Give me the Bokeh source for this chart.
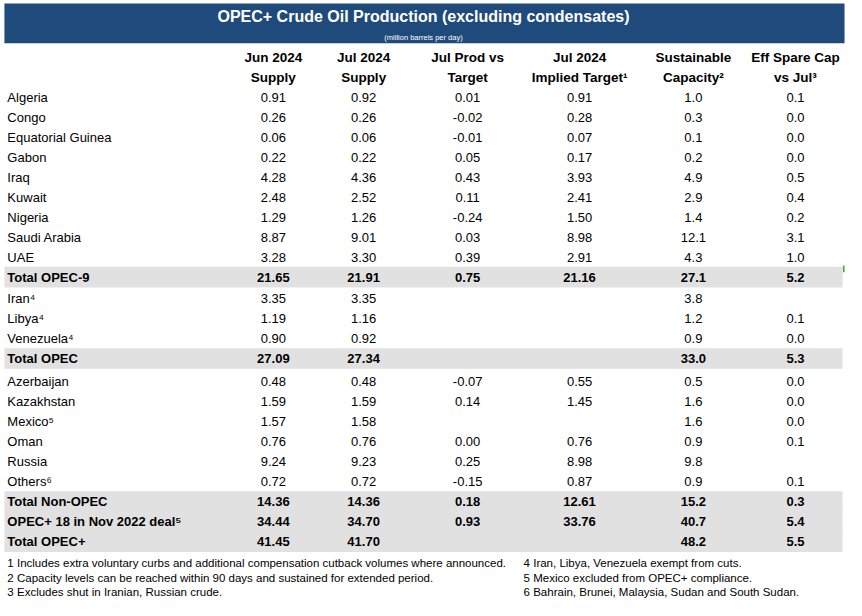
from bokeh.plotting import figure
from bokeh.models import Range1d, ColumnDataSource
from bokeh.core.properties import value
from bokeh.embed import file_html
from bokeh.resources import INLINE

# ---------------- data ----------------
title = "OPEC+ Crude Oil Production (excluding condensates)"
subtitle = "(million barrels per day)"

header_line1 = ["Jun 2024", "Jul 2024", "Jul Prod vs", "Jul 2024", "Sustainable", "Eff Spare Cap"]
header_line2 = ["Supply", "Supply", "Target", "Implied Target\u00b9", "Capacity\u00b2", "vs Jul\u00b3"]

countries = ["Algeria", "Congo", "Equatorial Guinea", "Gabon", "Iraq", "Kuwait", "Nigeria",
             "Saudi Arabia", "UAE", "Total OPEC-9", "Iran\u2074", "Libya\u2074", "Venezuela\u2074",
             "Total OPEC", "Azerbaijan", "Kazakhstan", "Mexico\u2075", "Oman", "Russia",
             "Others\u2076", "Total Non-OPEC", "OPEC+ 18 in Nov 2022 deal\u2075", "Total OPEC+"]

jun_supply = [0.91, 0.26, 0.06, 0.22, 4.28, 2.48, 1.29, 8.87, 3.28, 21.65, 3.35, 1.19, 0.90,
              27.09, 0.48, 1.59, 1.57, 0.76, 9.24, 0.72, 14.36, 34.44, 41.45]
jul_supply = [0.92, 0.26, 0.06, 0.22, 4.36, 2.52, 1.26, 9.01, 3.30, 21.91, 3.35, 1.16, 0.92,
              27.34, 0.48, 1.59, 1.58, 0.76, 9.23, 0.72, 14.36, 34.70, 41.70]
prod_vs_target = [0.01, -0.02, -0.01, 0.05, 0.43, 0.11, -0.24, 0.03, 0.39, 0.75, None, None, None,
                  None, -0.07, 0.14, None, 0.00, 0.25, -0.15, 0.18, 0.93, None]
implied_target = [0.91, 0.28, 0.07, 0.17, 3.93, 2.41, 1.50, 8.98, 2.91, 21.16, None, None, None,
                  None, 0.55, 1.45, None, 0.76, 8.98, 0.87, 12.61, 33.76, None]
sustainable_capacity = [1.0, 0.3, 0.1, 0.2, 4.9, 2.9, 1.4, 12.1, 4.3, 27.1, 3.8, 1.2, 0.9,
                        33.0, 0.5, 1.6, 1.6, 0.9, 9.8, 0.9, 15.2, 40.7, 48.2]
spare_capacity = [0.1, 0.0, 0.0, 0.0, 0.5, 0.4, 0.2, 3.1, 1.0, 5.2, None, 0.1, 0.0,
                  5.3, 0.0, 0.0, 0.0, 0.1, None, 0.1, 0.3, 5.4, 5.5]

footnotes_left = ["1  Includes extra voluntary curbs and additional compensation cutback volumes where announced.",
                  "2  Capacity levels can be reached within 90 days and sustained for extended period.",
                  "3  Excludes shut in Iranian, Russian crude."]
footnotes_right = ["4  Iran, Libya, Venezuela exempt from cuts.",
                   "5  Mexico excluded from OPEC+ compliance.",
                   "6  Bahrain, Brunei, Malaysia, Sudan and South Sudan."]

# ---------------- layout ----------------
FONT = value("Liberation Sans")
col_x = [278, 370, 476, 590, 706, 810]
col_fmt = ["{:.2f}", "{:.2f}", "{:.2f}", "{:.2f}", "{:.1f}", "{:.1f}"]
columns = [jun_supply, jul_supply, prod_vs_target, implied_target, sustainable_capacity, spare_capacity]

def row_y(i):
    extra = 0.0
    if i >= 10:
        extra += 1.5
    if i >= 14:
        extra += 3.5
    return 99.5 + 20.5 * i + extra

is_total = [c.startswith("Total") or c.startswith("OPEC+") for c in countries]
ys = [row_y(i) for i in range(len(countries))]

p = figure(width=846, height=600, x_range=Range1d(0, 862), y_range=Range1d(616, 0),
           output_backend="svg", toolbar_location=None, min_border=0,
           x_axis_type=None, y_axis_type=None, tools="")
p.grid.visible = False
p.outline_line_color = None
p.background_fill_color = "white"
p.border_fill_color = "white"

# title bar
p.quad(left=[4], right=[860], top=[3], bottom=[44], fill_color="#1F4A7C", line_color=None)
p.text(x=[431], y=[16.5], text=[title], text_font=FONT, text_font_style="bold",
       text_font_size="16px", text_color="white", text_align="center", text_baseline="middle")
p.text(x=[431], y=[37.5], text=[subtitle], text_font=FONT, text_font_size="7.5px",
       text_color="white", text_align="center", text_baseline="middle")

# grey bands for total rows
band_src = ColumnDataSource(dict(
    top=[y - 10.6 for y, t in zip(ys, is_total) if t],
    bottom=[y + 10.6 for y, t in zip(ys, is_total) if t]))
p.quad(left=4, right=858, top="top", bottom="bottom", source=band_src,
       fill_color="#E1E1E1", line_color=None)
# small green mark at right edge
p.quad(left=[858.5], right=[860], top=[272], bottom=[279], fill_color="#3A9A3A", line_color=None)

# headers
p.text(x=col_x, y=[59] * 6, text=header_line1, text_font=FONT, text_font_style="bold",
       text_font_size="13.5px", text_color="black", text_align="center", text_baseline="middle")
p.text(x=col_x, y=[79.5] * 6, text=header_line2, text_font=FONT, text_font_style="bold",
       text_font_size="13.5px", text_color="black", text_align="center", text_baseline="middle")

# row labels
for bold in (False, True):
    idx = [i for i in range(len(countries)) if is_total[i] == bold]
    src = ColumnDataSource(dict(x=[7] * len(idx), y=[ys[i] for i in idx],
                                text=[countries[i] for i in idx]))
    p.text(x="x", y="y", text="text", source=src, text_font=FONT,
           text_font_style="bold" if bold else "normal", text_font_size="13px",
           text_color="black", text_align="left", text_baseline="middle")

# values
for cx, fmt, vals in zip(col_x, col_fmt, columns):
    for bold in (False, True):
        idx = [i for i in range(len(vals)) if is_total[i] == bold and vals[i] is not None]
        src = ColumnDataSource(dict(x=[cx] * len(idx), y=[ys[i] for i in idx],
                                    text=[fmt.format(vals[i]) for i in idx]))
        p.text(x="x", y="y", text="text", source=src, text_font=FONT,
               text_font_style="bold" if bold else "normal", text_font_size="13px",
               text_color="black", text_align="center", text_baseline="middle")

# footnotes
fy = [577.5, 592.5, 607]
p.text(x=[7] * 3, y=fy, text=footnotes_left, text_font=FONT, text_font_size="11.5px",
       text_color="black", text_align="left", text_baseline="middle")
p.text(x=[533] * 3, y=fy, text=footnotes_right, text_font=FONT, text_font_size="11.5px",
       text_color="black", text_align="left", text_baseline="middle")

open("out.html", "w").write(file_html(p, INLINE))
